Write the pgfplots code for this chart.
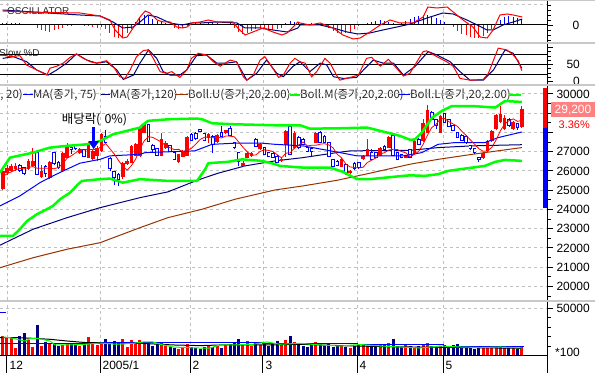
\documentclass[border=0pt]{standalone}
\usepackage{fontspec}
\setmainfont{Liberation Sans}
\newfontfamily\kr{Noto Sans CJK KR}
\usepackage{pgfplots}
\pgfplotsset{compat=1.18}
\usepackage{pgfplotstable}
\usetikzlibrary{arrows.meta}

\definecolor{cred}{RGB}{255,0,0}
\definecolor{cblue}{RGB}{0,0,255}
\definecolor{cnavy}{RGB}{0,0,128}
\definecolor{cbrown}{RGB}{153,51,0}
\definecolor{cgreen}{RGB}{0,255,0}
\definecolor{cgrid}{RGB}{192,192,192}
\definecolor{csep}{RGB}{200,200,200}
\definecolor{ctxt}{RGB}{40,40,40}
\definecolor{cpink}{RGB}{255,128,128}

% up (red) candles: index open high low close volume(x100)
\pgfplotstableread{
i o h l c v
0 25050 26100 25000 26000 20800
1 25870 26300 25800 26170 19760
2 26000 26350 25950 26250 18720
3 26080 26400 26000 26250 8320
6 26080 26600 26050 26515 16640
7 26250 27200 26200 26500 9360
9 25700 26300 25650 26000 10400
11 25650 26500 25600 26460 12480
14 26000 27000 25950 26950 11440
15 26690 27470 26650 27300 12480
18 26950 27200 26900 27120 10400
20 26690 27500 26650 27470 19760
21 26640 27100 26550 27030 12480
22 26780 27300 26500 27200 11440
23 27030 27950 27000 27900 13520
28 25700 26450 25600 26390 17680
29 26350 26600 26300 26500 9360
30 26430 27350 26400 27290 16640
31 26780 27450 26750 27380 12480
32 26750 28300 26700 28250 16640
33 27990 28450 27950 28420 13520
37 26780 27990 26750 27640 13520
38 27210 27550 27150 27470 10400
41 26460 26900 26400 26860 7280
42 26740 27100 26700 27035 9360
43 26775 27800 26750 27780 12480
48 27730 27950 27470 27900 10400
50 27500 27900 27450 27850 10400
52 27950 28150 27900 28130 11440
56 26255 26500 26200 26430 11440
57 26690 27000 26650 26950 15600
58 26775 27000 26700 26950 10400
60 27120 27450 27100 27415 11440
65 26500 26650 26450 26600 11440
66 27330 28100 26720 28070 16640
68 27210 28050 27150 27990 14560
73 27470 28000 27450 27990 14560
79 26220 26650 26200 26600 11440
81 25875 26050 25850 26000 8320
84 26600 26800 26550 26775 11440
85 26775 27640 26750 27120 10400
88 26775 27250 26750 27210 11440
90 27210 27800 27200 27780 13520
94 26690 26850 26650 26810 11440
96 26860 27600 26850 27550 9360
98 27550 28680 27500 28470 11440
99 27990 29400 27950 29165 13520
102 27990 28900 27950 28850 10400
112 26690 27000 26600 26950 10400
113 27035 27600 27000 27550 9360
114 27550 28100 27500 28070 8320
115 28160 28940 28100 28890 10400
116 28540 29370 28500 28940 9360
117 28160 28900 28100 28770 8320
119 28160 28600 28100 28540 8320
121 28300 29350 28250 29200 10400
}\candleup

% down (blue) candles
\pgfplotstableread{
i o h l c v
4 26290 26350 25950 26000 20800
5 26170 26200 25800 25870 23920
8 26950 27000 25800 25820 32240
10 26250 26300 25700 25880 14560
12 26950 27000 26300 26400 13520
13 26430 26500 26100 26170 10400
16 27240 27300 26900 27120 12480
17 27300 27350 27100 27150 11440
19 27100 27150 26700 26740 14560
24 27810 28150 27450 27500 17680
25 26640 26700 26000 26120 12480
26 25950 26000 25250 25650 15600
27 25820 25900 25220 25530 13520
34 28420 28450 27500 27550 13520
35 27330 27400 27000 27090 10400
36 27160 27200 26750 26780 12480
39 27300 27350 27000 27030 9360
40 26950 27000 26550 26600 8320
44 27900 27950 27550 27600 9360
45 27950 28000 27600 27675 8320
46 28160 28200 28000 28060 7280
47 27935 27990 27550 27600 9360
49 27810 27850 26950 27380 9360
51 27990 28330 27750 27810 8320
53 28195 28330 27800 27850 12480
54 27470 27500 27150 27210 14560
55 26950 27000 26250 26515 17680
59 27640 27700 27250 27294 13520
61 27210 27250 26800 26860 12480
62 26950 27000 26750 26775 10400
63 26900 27000 26650 26690 13520
64 26775 26800 26390 26460 15600
67 28330 28400 26800 26860 20800
69 27730 27810 27150 27210 12480
70 27640 27700 27350 27380 10400
71 27210 27250 27000 27035 9360
72 27160 27200 26740 27035 12480
74 27990 28050 27450 27500 11440
75 27810 27850 27450 27500 10400
76 27470 27500 26700 26740 13520
77 26570 26600 26200 26255 9360
78 26515 26550 26250 26290 10400
80 26340 26400 25800 25875 9360
82 26390 26450 26050 26120 10400
83 26430 26450 26100 26170 12480
86 26950 27160 26550 26600 9360
87 26950 27000 26650 26690 10400
89 27290 27350 27100 27120 12480
91 27850 27900 26780 26810 17680
92 26950 26980 26550 26600 10400
93 26860 26900 26650 26690 9360
95 27120 27150 26650 26690 10400
97 27640 27700 27350 27380 10400
100 29060 29100 28650 28680 10400
101 28680 28700 28200 28370 9360
103 28990 29000 28500 28540 11440
104 28680 28700 28300 28330 10400
105 28370 28400 28050 28110 11440
106 27990 28000 27700 27730 12480
107 27850 27900 27550 27600 9360
108 27810 27850 27400 27470 8320
109 27330 27350 27100 27160 10400
110 27160 27200 26900 26950 7280
111 26690 26700 26460 26570 9360
118 28680 28750 28300 28370 10400
120 28470 28500 28150 28250 7280
}\candledn

% oscillator histogram
\pgfplotstableread{
i m
0 2
1 2
2 2
3 2
4 2
5 1
6 0
7 1
8 -3
9 -5
10 -6
11 -7
12 -5
13 -4
14 -3
15 -1
16 -1
17 0
18 0
19 -1
20 -1
21 -2
22 -3
23 -2
24 -4
25 -8
26 -12
27 -13
28 -12
29 -8
30 -4
31 3
32 8
33 10
34 9
35 6
36 4
37 3
38 2
39 1
40 -3
41 -4
42 -3
43 -1
44 1
45 2
46 2
47 1
48 2
49 3
50 2
51 1
52 1
53 2
54 -3
55 -7
56 -9
57 -8
58 -6
59 -4
60 -3
61 -3
62 -5
63 -5
64 -4
65 -3
66 2
67 4
68 3
69 2
70 1
71 1
72 2
73 1
74 0
75 0
76 -3
77 -6
78 -8
79 -9
80 -8
81 -7
82 -4
83 -1
84 1
85 2
86 3
87 4
88 5
89 4
90 3
91 2
92 1
93 2
94 4
95 6
96 8
97 9
98 10
99 10
100 9
101 7
102 5
103 3
104 1
105 -2
106 -6
107 -9
108 -10
109 -12
110 -13
111 -13
112 -11
113 -8
114 -4
115 1
116 5
117 8
118 9
119 8
120 7
121 6
}\osch

\newcommand{\tfont}{\fontsize{12}{12}\selectfont}
\newcommand{\lfont}{\kr\fontsize{11.5}{12}\selectfont}

\pgfplotsset{
  panel/.style={
    scale only axis, width=547bp, xmin=-0.63, xmax=126.87,
    anchor=south west,
    axis line style={draw=none},
    xtick={1.0,22.68,43.66,60.67,82.59,102.63}, xticklabels={},
    xtick style={draw=none},
    xmajorgrids,
    grid style={draw=cgrid, line width=0.8bp, dash pattern=on 3bp off 3bp},
    ytick pos=right, yticklabel pos=right, tick align=outside,
    ytick style={draw=black, line width=0.8bp},
    major tick length=6bp, minor tick length=4bp,
    tick label style={font=\tfont, text=black},
    scaled y ticks=false, scaled x ticks=false,
    /pgf/number format/assume math mode=true,
  },
  wick/.style={draw=none, forget plot, error bars/.cd, y dir=plus, y explicit, error mark=none},
}

\begin{document}
\begin{tikzpicture}
\useasboundingbox (0,0) rectangle (595bp,373bp);
\fill[white] (0,0) rectangle (595bp,373bp);

% panel titles and legend text (behind the plots)
\node[anchor=west, inner sep=0, text=ctxt, font=\fontsize{10}{10}\selectfont] at (7bp,362bp) {OSCILLATOR};
\node[anchor=west, inner sep=0, text=ctxt, font=\fontsize{10}{10}\selectfont] at (-1bp,320bp) {Slow \%D};

\node[anchor=east, inner sep=0, text=ctxt, font=\lfont] at (23bp,278bp) {MA(종가, 20)};
\draw[cblue, line width=1bp] (23bp,278bp) -- (33bp,278bp);
\node[anchor=west, inner sep=0, text=ctxt, font=\lfont] at (33bp,278bp) {MA(종가, 75)};
\draw[cnavy, line width=1bp] (100bp,278bp) -- (110bp,278bp);
\node[anchor=west, inner sep=0, text=ctxt, font=\lfont] at (110bp,278bp) {MA(종가,120)};
\draw[cbrown, line width=1bp] (175bp,278bp) -- (188bp,278bp);
\node[anchor=west, inner sep=0, text=ctxt, font=\lfont] at (188bp,278bp) {Boll.U(종가,20,2.00)};
\draw[cgreen, line width=2.5bp] (290bp,278bp) -- (300bp,278bp);
\node[anchor=west, inner sep=0, text=ctxt, font=\lfont] at (300bp,278bp) {Boll.M(종가,20,2.00)};
\draw[cblue, line width=1bp] (399bp,278bp) -- (410bp,278bp);
\node[anchor=west, inner sep=0, text=ctxt, font=\lfont] at (410bp,278bp) {Boll.L(종가,20,2.00)};
\draw[cgreen, line width=2.5bp] (509bp,278bp) -- (521bp,278bp);

% ---------------- OSCILLATOR ----------------
\begin{axis}[panel, at={(0bp,331bp)}, height=41bp, ymin=-17, ymax=24,
  ytick={0}, yticklabels={0}, minor ytick={-15,-10,-5,5,10,15,20},
  yticklabel style={xshift=16bp}]
\draw[cgrid, line width=0.8bp, dash pattern=on 3bp off 3bp] (axis cs:-0.63,21) -- (axis cs:126.87,21);
\addplot[ycomb, draw=cred, line width=1bp, mark=none, restrict y to domain=-100:-0.5] table[x=i, y=m] {\osch};
\addplot[ycomb, draw=cblue, line width=1bp, mark=none, restrict y to domain=0.5:100] table[x=i, y=m] {\osch};
\draw[black, line width=1bp] (axis cs:-0.63,0) -- (axis cs:126.87,0);
\addplot[cnavy, line width=1bp, mark=none] coordinates {
(0,15) (7.1,13) (18,10) (22.7,9) (25.7,3) (28,-3) (30.4,-2) (32,3) (33.9,10) (36,8) (39,2) (41.8,0) (44.1,2) (46,2) (50,3) (54.6,2) (56.5,-3) (60,-3) (63,-5) (66.3,-7) (68.8,-3) (69.3,0) (74,0) (77,-3) (80.3,-7) (82.8,-9) (85.6,-8) (88.6,-5) (91.9,-2) (95,1) (98.9,7) (102.6,12) (105,11) (108.2,5) (110.6,0) (112.9,-5) (114.3,-5) (116.6,0) (119,3) (121.1,6)};
\addplot[cred, line width=1bp, mark=none] coordinates {
(0,14) (5.2,13) (18,12) (22.7,9) (25,5) (26.2,-5) (28,-13) (29,-12) (30.4,-3) (32,8) (33.2,14) (34.3,12) (36,5) (37.4,3) (39,3) (40.6,-2) (41.8,-3) (43,-2) (44.1,2) (46,3) (47.9,5) (50,3) (53.7,3) (54.8,-3) (56.5,-10) (58.3,-7) (60.7,-3) (63,-7) (65.1,-10) (66.3,-8) (67.7,-2) (68.8,3) (69.3,2) (71.6,0) (74,2) (77,-3) (79.3,-10) (81.7,-14) (83.3,-13) (85.6,-7) (88,0) (90.3,5) (92.6,2) (95.6,2) (98,8) (99.1,18) (101.2,17) (103.6,18) (105,13) (107.3,5) (109.6,-2) (111.3,-12) (112.9,-13) (114.3,-5) (115.9,10) (117.6,11) (119,10) (121.1,8)};
\end{axis}

% ---------------- SLOW %D ----------------
\begin{axis}[panel, at={(0bp,290bp)}, height=38bp, ymin=-4.41, ymax=107.35,
  ytick={0,50,100}, yticklabels={\hphantom{5}0,50,{}}, minor ytick={12.5,25,37.5,62.5,75,87.5},
  yticklabel style={xshift=10bp}]
\draw[black, line width=1bp] (axis cs:-0.63,20) -- (axis cs:126.87,20);
\draw[black, line width=1bp] (axis cs:-0.63,50) -- (axis cs:126.87,50);
\draw[black, line width=1bp] (axis cs:-0.63,80) -- (axis cs:126.87,80);
\addplot[cnavy, line width=1bp, mark=none] coordinates {
(0,68) (2.5,73) (5.6,58) (7.9,34) (10.6,19) (12.6,34) (14.9,54) (17.2,81) (19.6,63) (21.9,54) (24.2,58) (26.6,34) (28.1,6) (30.5,19) (32.0,54) (34.0,93) (35.9,68) (37.4,29) (39.0,19) (41.3,19) (42.9,34) (45.2,76) (47.5,78) (49.9,54) (52.2,54) (54.5,58) (56.9,4) (59.2,24) (61.5,63) (63.9,24) (65.4,14) (67.7,45) (69.3,58) (71.6,29) (74.0,54) (75.5,49) (77.1,14) (79.4,9) (82.5,12) (84.1,34) (86.4,63) (88.7,54) (91.1,54) (93.4,19) (96.1,44) (99.2,88) (101.2,78) (104.3,58) (106.6,29) (108.9,4) (112.0,4) (114.4,34) (117.1,93) (119.0,83) (121.0,39)};
\addplot[cred, line width=1bp, mark=none] coordinates {
(0,78) (1.7,73) (4.0,76) (5.6,48) (7.1,39) (10.3,19) (11.0,39) (12.6,45) (14.1,54) (15.7,71) (17.2,81) (18.8,68) (20.4,58) (21.9,54) (24.2,61) (25.8,44) (27.3,14) (28.5,9) (29.7,34) (31.2,73) (32.8,91) (33.9,93) (35.1,68) (36.7,29) (38.2,24) (39.4,29) (41.3,12) (42.9,34) (44.0,68) (45.6,83) (47.5,78) (49.1,58) (50.7,45) (53.0,63) (54.5,58) (56.1,14) (56.9,4) (58.4,19) (60.0,63) (61.1,73) (62.7,44) (64.3,12) (65.4,19) (67.0,54) (68.1,68) (69.3,58) (70.5,54) (72.0,14) (73.2,29) (75.1,68) (76.3,54) (77.8,19) (78.6,4) (81.0,12) (82.9,19) (84.8,68) (86.0,71) (88.0,45) (89.9,65) (91.1,49) (93.4,16) (94.9,24) (98.0,88) (98.8,90) (101.2,73) (103.5,58) (105.0,45) (106.6,9) (108.9,4) (112.0,6) (113.2,24) (115.5,98) (117.5,93) (119.0,78) (120.2,60) (121.0,32)};
\end{axis}

% ---------------- PRICE ----------------
\begin{axis}[panel, at={(0bp,73bp)}, height=214bp, ymin=19293, ymax=30410,
  ytick={20000,21000,22000,23000,24000,25000,26000,27000,28000,29000,30000},
  yticklabels={20000,21000,22000,23000,24000,25000,26000,27000,{},{},30000},
  minor ytick={19500,20500,21500,22500,23500,24500,25500,26500,27500,28500,29500},
  ymajorgrids]
% MA120
\addplot[cbrown, line width=1bp, mark=none] coordinates {
(-0.63,20970) (7.1,21490) (15.0,21930) (22.7,22270) (32.0,23050) (38.5,23570) (46.5,24010) (54.2,24530) (63.5,25010) (70.0,25220) (77.9,25510) (85.6,25880) (95.0,26350) (101.5,26600) (109.4,26860) (121.0,27210)};
% MA75
\addplot[cnavy, line width=1bp, mark=none] coordinates {
(-0.63,22140) (7.1,22970) (15.0,23570) (22.7,24090) (32.0,24610) (38.5,24910) (45.3,25510) (50.2,25880) (56.5,26260) (63.5,26520) (70.0,26690) (77.9,26950) (81.0,27040) (95.0,27070) (101.5,27210) (109.4,27300) (121.0,27360)};
% red candles
\addplot[wick, error bar style={draw=cred, line width=0.9bp}] table[x=i, y=l, y error expr=\thisrow{h}-\thisrow{l}] {\candleup};
\addplot[wick, error bar style={draw=cred, line width=3.6bp}] table[x=i, y=o, y error expr=\thisrow{c}-\thisrow{o}] {\candleup};
% blue hollow candles
\addplot[wick, error bar style={draw=cblue, line width=0.9bp}] table[x=i, y=l, y error expr=\thisrow{h}-\thisrow{l}] {\candledn};
\addplot[wick, error bar style={draw=cblue, line width=3.6bp}] table[x=i, y=c, y error expr=\thisrow{o}-\thisrow{c}] {\candledn};
\addplot[wick, error bar style={draw=white, line width=1.8bp}] table[x=i, y=c, y error expr=\thisrow{o}-\thisrow{c}] {\candledn};
\addplot[draw=none, forget plot, error bars/.cd, x dir=both, x fixed=0.42, error mark=none, error bar style={draw=cblue, line width=0.9bp}] table[x=i, y=o] {\candledn};
\addplot[draw=none, forget plot, error bars/.cd, x dir=both, x fixed=0.42, error mark=none, error bar style={draw=cblue, line width=0.9bp}] table[x=i, y=c] {\candledn};
% MA20 (Boll.M)
\addplot[cblue, line width=1bp, mark=none] coordinates {
(-0.63,24180) (4.0,24700) (8.7,25390) (11.7,25740) (15.0,26090) (18.0,26400) (22.7,26600) (25.0,26780) (32.0,26860) (33.2,26950) (37.1,26980) (44.8,27040) (48.8,27380) (54.2,27440) (60.4,27440) (63.5,27380) (70.0,27300) (77.9,26980) (82.6,26780) (88.0,26780) (93.3,26780) (97.7,26950) (101.5,27380) (105.4,27470) (109.4,27470) (112.4,27470) (115.5,27730) (121.0,28020)};
% MA5
\addplot[cred, line width=0.8bp, mark=none] coordinates {
(0,25700)(1,25850)(2,25950)(3,26050)(4,26134)(5,26108)(6,26177)(7,26227)(8,26141)(9,26141)(10,26143)(11,26132)(12,26112)(13,26182)(14,26372)(15,26656)(16,26788)(17,26938)(18,27128)(19,27086)(20,27120)(21,27102)(22,27112)(23,27268)(24,27420)(25,27150)(26,26874)(27,26540)(28,26238)(29,26038)(30,26272)(31,26618)(32,27162)(33,27568)(34,27778)(35,27738)(36,27618)(37,27496)(38,27306)(39,27202)(40,27104)(41,27120)(42,26999)(43,27061)(44,27175)(45,27390)(46,27630)(47,27743)(48,27767)(49,27723)(50,27758)(51,27708)(52,27814)(53,27804)(54,27770)(55,27503)(56,27227)(57,26991)(58,26811)(59,26828)(60,27008)(61,27094)(62,27059)(63,27007)(64,26840)(65,26677)(66,26919)(67,26936)(68,27196)(69,27346)(70,27502)(71,27295)(72,27330)(73,27330)(74,27388)(75,27412)(76,27353)(77,27197)(78,26857)(79,26677)(80,26352)(81,26204)(82,26177)(83,26153)(84,26188)(85,26437)(86,26557)(87,26671)(88,26879)(89,26948)(90,27080)(91,27122)(92,27104)(93,27000)(94,26938)(95,26720)(96,26868)(97,27024)(98,27380)(99,27851)(100,28249)(101,28413)(102,28707)(103,28721)(104,28554)(105,28440)(106,28312)(107,28062)(108,27848)(109,27614)(110,27382)(111,27150)(112,27020)(113,27036)(114,27218)(115,27606)(116,28080)(117,28444)(118,28608)(119,28702)(120,28574)(121,28626)};
% Bollinger upper / lower
\addplot[cgreen, line width=2.5bp, mark=none, line join=round] coordinates {
(-0.63,25910) (1.7,26690) (7.1,26950) (11.0,27210) (15.0,27300) (19.6,27380) (22.7,27550) (25.7,27900) (30.4,28160) (32.0,28250) (32.5,28370) (33.9,28600) (38.5,28680) (45.3,28720) (46.5,28680) (48.8,28475) (54.2,28420) (63.5,28370) (69.3,28370) (71.6,28195) (77.9,28210) (84.9,28250) (89.6,27990) (92.6,27820) (95.0,27610) (96.1,27640) (97.7,27990) (100.1,28770) (102.4,29120) (104.7,29370) (109.4,29370) (114.8,29290) (117.1,29630) (121.0,29580)};
\addplot[cgreen, line width=2.5bp, mark=none, line join=round] coordinates {
(-0.63,22620) (2.4,22620) (4.0,22970) (5.7,23400) (8.0,23750) (10.3,24010) (11.7,24180) (13.4,24530) (15.7,24870) (17.6,25310) (18.5,25480) (22.7,25570) (25.0,25600) (28.0,25390) (32.0,25570) (38.5,25480) (45.3,25480) (47.2,26090) (47.9,26400) (52.5,26470) (55.8,26600) (60.4,26520) (63.5,26350) (64.6,26260) (70.0,26170) (76.3,26170) (79.3,25950) (82.6,25570) (85.6,25570) (93.3,25740) (95.0,25770) (98.4,25740) (101.5,25830) (103.8,26000) (109.4,26170) (112.4,26260) (114.8,26470) (117.1,26570) (121.0,26520)};
% ex-dividend arrow
\draw[cblue, line width=3.5bp, -{Triangle[width=10bp,length=8bp]}] (axis cs:21.2,28283) -- (axis cs:21.2,27125);
\end{axis}

% ---------------- VOLUME ----------------
\begin{axis}[panel, at={(0bp,17bp)}, height=54bp, ymin=0, ymax=56250,
  ytick={50000}, yticklabels={50000}, minor ytick={10000,20000,30000,40000},
  ymajorgrids, clip=false]
\addplot[ycomb, draw=cred, line width=3bp, mark=none] table[x=i, y=v] {\candleup};
\addplot[ycomb, draw=cnavy, line width=3bp, mark=none] table[x=i, y=v] {\candledn};
\addplot[black, line width=1bp, mark=none] coordinates {
(-0.63,19060) (4.0,19060) (7.1,18400) (11.0,17400) (15.0,15600) (19.6,13900) (22.7,13900) (32.0,13200) (36.7,12200) (39.7,11500) (46.0,10800) (50.7,11500) (61.6,11500) (69.3,12200) (81.0,10500) (92.6,9500) (104.3,9000) (121.0,8000)};
\addplot[cblue, line width=1bp, mark=none, const plot] coordinates {
(-0.63,13200) (22.68,13900) (43.66,14250) (60.67,12500) (82.59,11500) (102.63,9400) (121.5,9400)};
\addplot[cgreen, line width=1bp, mark=none] coordinates {
(0,19800) (1.7,19100) (4.0,16700) (5.2,15600) (6.4,18000) (8.0,18400) (9.4,17100) (11.0,15600) (12.2,11500) (15.0,11500) (18.7,12000) (22.7,13500) (26.6,12200) (30.4,13200) (32.7,14600) (35.0,14600) (36.7,12200) (39.7,9400) (43.0,8700) (46.0,8300) (48.3,8300) (50.6,11500) (53.7,11500) (58.3,12200) (61.6,14600) (64.6,12200) (69.3,13200) (74.0,11500) (78.6,10400) (83.3,12000) (88.0,10400) (92.6,9400) (97.3,8300) (102.0,10400) (106.6,9400) (111.3,8800) (116.0,9400) (121.0,8300)};
% month ticks and labels
\draw[black, line width=1bp] (axis cs:1.0,0) -- (axis cs:1.0,-17700);
\draw[black, line width=1bp] (axis cs:22.68,0) -- (axis cs:22.68,-17700);
\draw[black, line width=1bp] (axis cs:43.66,0) -- (axis cs:43.66,-17700);
\draw[black, line width=1bp] (axis cs:60.67,0) -- (axis cs:60.67,-17700);
\draw[black, line width=1bp] (axis cs:82.59,0) -- (axis cs:82.59,-17700);
\draw[black, line width=1bp] (axis cs:102.63,0) -- (axis cs:102.63,-17700);
\node[anchor=west, inner sep=1.5bp, xshift=1bp, font=\tfont] at (axis cs:1.0,-9400) {12};
\node[anchor=west, inner sep=1.5bp, xshift=1bp, font=\tfont] at (axis cs:22.68,-9400) {2005/1};
\node[anchor=west, inner sep=1.5bp, xshift=1bp, font=\tfont] at (axis cs:43.66,-9400) {2};
\node[anchor=west, inner sep=1.5bp, xshift=1bp, font=\tfont] at (axis cs:60.67,-9400) {3};
\node[anchor=west, inner sep=1.5bp, xshift=1bp, font=\tfont] at (axis cs:82.59,-9400) {4};
\node[anchor=west, inner sep=1.5bp, xshift=1bp, font=\tfont] at (axis cs:102.63,-9400) {5};
\end{axis}

% annotations
\node[inner sep=0, font=\kr\fontsize{12.5}{13}\selectfont] at (94.5bp,253bp) {배당락(\,\,0\%)};
\draw[cblue, line width=1bp] (0bp,60bp) -- (6bp,60bp);

% price indicator, current price, change
\fill[cred] (542.5bp,245.3bp) rectangle (547bp,285bp);
\fill[cblue] (542.5bp,165.3bp) rectangle (547bp,245.3bp);
\fill[cpink] (550.5bp,255.5bp) rectangle (595bp,270.5bp);
\node[text=white, inner sep=0, font=\tfont] at (573bp,263bp) {29,200};
\node[text=cred, inner sep=0, anchor=east, font=\fontsize{11}{11}\selectfont] at (590bp,248.5bp) {3.36\%};
\node[anchor=west, inner sep=0, font=\tfont] at (555bp,21bp) {*100};

% frame lines
\draw[black, line width=1bp] (0bp,17bp) -- (547bp,17bp);
\draw[black, line width=1bp] (547bp,0bp) -- (547bp,373bp);
\fill[csep] (0bp,371.5bp) rectangle (595bp,373bp);
\fill[csep] (0bp,328.5bp) rectangle (595bp,330.5bp);
\fill[csep] (0bp,287bp) rectangle (595bp,289bp);
\fill[csep] (0bp,70.8bp) rectangle (595bp,72.8bp);
\end{tikzpicture}
\end{document}
